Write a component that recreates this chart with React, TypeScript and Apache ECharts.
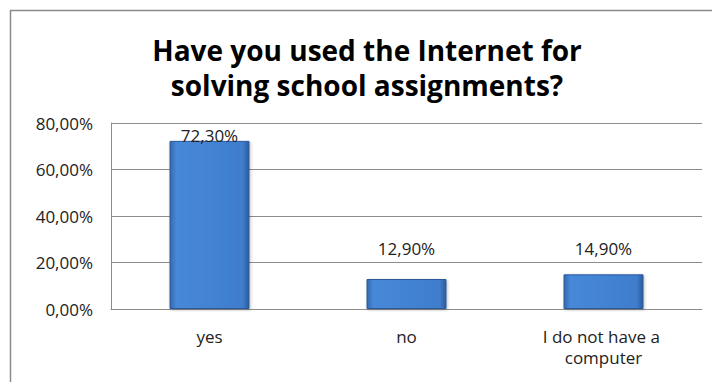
import React, { useEffect, useRef } from "react";
import * as echarts from "echarts";

const categories = ["yes", "no", "I do not have a computer"];
const values = [72.3, 12.9, 14.9];
const labelDistances = [-3, 22, 17];
const yTicks = { min: 0, max: 80, interval: 20 };
const titleLines = ["Have you used the Internet for", "solving school assignments?"];

const FONT = "Open Sans";

const fmt = (v: number) => v.toFixed(2).replace(".", ",") + "%";

export default function App() {
  const ref = useRef<HTMLDivElement>(null);
  useEffect(() => {
    const chart = echarts.init(ref.current!, undefined, { renderer: "svg" });
    const barColor = new echarts.graphic.LinearGradient(0, 0, 1, 0, [
      { offset: 0, color: "#3468b0" },
      { offset: 0.08, color: "#4788d8" },
      { offset: 0.5, color: "#4383d4" },
      { offset: 0.92, color: "#3f7dcc" },
      { offset: 1, color: "#2c5b9c" },
    ]);
    chart.setOption({
      animation: false,
      backgroundColor: "#ffffff",
      textStyle: { fontFamily: FONT },
      title: {
        text: titleLines.join("\n"),
        left: 362,
        top: 27,
        textAlign: "center",
        textStyle: {
          fontFamily: FONT,
          fontWeight: "bold",
          fontSize: 28,
          lineHeight: 35,
          color: "#000",
        },
      },
      graphic: [
        {
          type: "rect",
          shape: { x: 10.5, y: 10.5, width: 720, height: 400 },
          style: { fill: "none", stroke: "#8a8a8a", lineWidth: 1.5 },
          silent: true,
        },
      ],
      grid: { left: 111, right: 10, top: 123, bottom: 73 },
      xAxis: {
        type: "category",
        data: categories,
        axisLine: { show: true, lineStyle: { color: "#8c8c8c" } },
        axisTick: { show: false },
        axisLabel: {
          color: "#222",
          fontSize: 17,
          fontFamily: FONT,
          margin: 17,
          lineHeight: 21,
          width: 150,
          overflow: "break",
          interval: 0,
        },
      },
      yAxis: {
        type: "value",
        min: yTicks.min,
        max: yTicks.max,
        interval: yTicks.interval,
        axisLine: { show: true, lineStyle: { color: "#8c8c8c" } },
        axisTick: { show: false },
        splitLine: { show: true, lineStyle: { color: "#8c8c8c" } },
        axisLabel: {
          color: "#222",
          fontSize: 17,
          fontFamily: FONT,
          margin: 18,
          formatter: (v: number) => fmt(v),
        },
      },
      series: [
        {
          type: "bar",
          barWidth: 80,
          data: values.map((v, i) => ({
            value: v,
            label: { distance: labelDistances[i] },
          })),
          itemStyle: {
            color: barColor,
            borderColor: "#2b5a9c",
            borderWidth: 1,
            shadowColor: "rgba(0,0,0,0.25)",
            shadowBlur: 3,
            shadowOffsetX: 1,
            shadowOffsetY: 1,
          },
          label: {
            show: true,
            position: "top",
            color: "#222",
            fontSize: 17,
            fontFamily: FONT,
            formatter: (p: any) => fmt(p.value),
          },
        },
      ],
    });
    return () => chart.dispose();
  }, []);
  return (
    <div
      ref={ref}
      style={{ position: "fixed", left: 0, top: 0, width: 712, height: 382 }}
    />
  );
}
